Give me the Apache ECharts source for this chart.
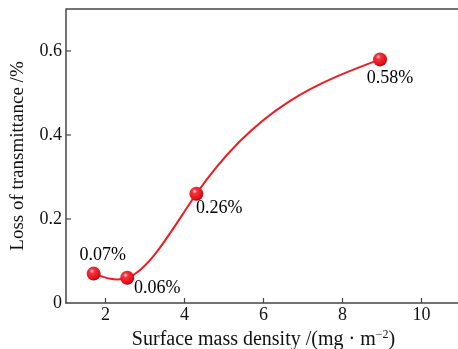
<!DOCTYPE html>
<html>
<head>
<meta charset="utf-8">
<script src="https://cdn.jsdelivr.net/npm/echarts@6/dist/echarts.min.js"></script>
<style>
  html, body { margin: 0; padding: 0; background: #fff; }
  #chart { width: 458px; height: 349px; }
</style>
</head>
<body>
<div id="chart"></div>
<script>
// surface mass density (mg·m^-2) and loss of transmittance (%)
var density = [1.7, 2.55, 4.3, 8.95];
var loss = [0.07, 0.06, 0.26, 0.58];
var pointLabels = ['0.07%', '0.06%', '0.26%', '0.58%'];
var xTicks = [2, 4, 6, 8, 10];
var yTicks = [0, 0.2, 0.4, 0.6];
// label offsets relative to each point
var labelOffsets = [[9, -18], [30, 10], [23, 14], [10, 19]];

var font = 'Liberation Serif';
var ballColor = {
  type: 'radial', x: 0.38, y: 0.32, r: 0.7,
  colorStops: [
    { offset: 0, color: '#ffd0d0' },
    { offset: 0.25, color: '#f5303a' },
    { offset: 0.8, color: '#e0101a' },
    { offset: 1, color: '#a00008' }
  ]
};

// slopes of a natural cubic spline through the points
function splineSlopes(xs, ys) {
  var n = xs.length, h = [], a = [], b = [], c = [], d = [];
  for (var i = 0; i < n - 1; i++) h.push(xs[i + 1] - xs[i]);
  for (i = 0; i < n; i++) {
    a[i] = i > 0 ? h[i - 1] : 0;
    c[i] = i < n - 1 ? h[i] : 0;
    b[i] = (i === 0 || i === n - 1) ? 1 : 2 * (h[i - 1] + h[i]);
    d[i] = (i === 0 || i === n - 1) ? 0 :
      6 * ((ys[i + 1] - ys[i]) / h[i] - (ys[i] - ys[i - 1]) / h[i - 1]);
  }
  c[0] = 0; a[n - 1] = 0;
  for (i = 1; i < n; i++) {
    var w = a[i] / b[i - 1];
    b[i] -= w * c[i - 1];
    d[i] -= w * d[i - 1];
  }
  var M = [];
  M[n - 1] = d[n - 1] / b[n - 1];
  for (i = n - 2; i >= 0; i--) M[i] = (d[i] - c[i] * M[i + 1]) / b[i];
  var s = [];
  for (i = 0; i < n - 1; i++) {
    s[i] = (ys[i + 1] - ys[i]) / h[i] - h[i] * (2 * M[i] + M[i + 1]) / 6;
  }
  i = n - 1;
  s[i] = (ys[i] - ys[i - 1]) / h[i - 1] + h[i - 1] * (M[i - 1] + 2 * M[i]) / 6;
  return s;
}
var slopes = splineSlopes(density, loss);

var pointData = density.map(function (x, i) {
  return {
    value: [x, loss[i]],
    label: { show: true, position: 'inside', offset: labelOffsets[i], formatter: pointLabels[i] }
  };
});

var chart = echarts.init(document.getElementById('chart'));
var option = {
  animation: false,
  grid: { left: 66, top: 9, right: -3, bottom: 46, outerBoundsMode: 'none', containLabel: false },
  xAxis: {
    type: 'value',
    min: 1, max: 11, interval: 1,
    name: 'Surface mass density /(mg · m{sup|−2})',
    nameLocation: 'middle',
    nameGap: 21,
    nameTextStyle: {
      fontFamily: font, fontSize: 20, color: '#111',
      rich: { sup: { fontFamily: font, fontSize: 12, color: '#111', verticalAlign: 'top', padding: [0, 0, 9, 0] } }
    },
    axisLine: { show: true, lineStyle: { color: '#444', width: 1.5 } },
    axisTick: { show: false },
    axisLabel: {
      fontFamily: font, fontSize: 18, color: '#111', margin: 3,
      formatter: function (v) { return xTicks.indexOf(v) >= 0 ? String(v) : ''; }
    },
    splitLine: { show: false }
  },
  yAxis: {
    type: 'value',
    min: 0, max: 0.7, interval: 0.1,
    name: 'Loss of transmittance /%',
    nameLocation: 'middle',
    nameGap: 38,
    nameTextStyle: { fontFamily: font, fontSize: 19, color: '#111' },
    axisLine: { show: true, lineStyle: { color: '#444', width: 1.5 } },
    axisTick: { show: false },
    axisLabel: {
      fontFamily: font, fontSize: 18, color: '#111', margin: 4,
      formatter: function (v) {
        var r = Math.round(v * 10);
        if (r === 0) return '0';
        return (r % 2 === 0 && r < 7) ? (r / 10).toFixed(1) : '';
      }
    },
    splitLine: { show: false }
  },
  series: [
    {
      // smooth curve through the measured points
      type: 'custom',
      data: [[density[0], loss[0]]],
      renderItem: function (params, api) {
        var p0 = api.coord([density[0], loss[0]]);
        var path = 'M' + p0[0] + ' ' + p0[1];
        for (var i = 0; i < density.length - 1; i++) {
          var h = density[i + 1] - density[i];
          var c1 = api.coord([density[i] + h / 3, loss[i] + slopes[i] * h / 3]);
          var c2 = api.coord([density[i + 1] - h / 3, loss[i + 1] - slopes[i + 1] * h / 3]);
          var p1 = api.coord([density[i + 1], loss[i + 1]]);
          path += ' C' + c1[0] + ' ' + c1[1] + ' ' + c2[0] + ' ' + c2[1] + ' ' + p1[0] + ' ' + p1[1];
        }
        return {
          type: 'path',
          shape: { pathData: path },
          style: { fill: null, stroke: '#ee1c24', lineWidth: 2 }
        };
      },
      z: 2
    },
    {
      type: 'scatter',
      data: pointData,
      symbol: 'circle',
      symbolSize: 14,
      itemStyle: { color: ballColor, opacity: 1 },
      label: { fontFamily: font, fontSize: 18, color: '#000', opacity: 1 },
      z: 3
    }
  ],
  graphic: []
};
chart.setOption(option);

// top frame line and inward ticks at the labelled values
function drawFrame() {
  var g = [];
  var yTop = chart.convertToPixel({ yAxisIndex: 0 }, 0.7);
  var yBot = chart.convertToPixel({ yAxisIndex: 0 }, 0);
  var xL = chart.convertToPixel({ xAxisIndex: 0 }, 1);
  g.push({ type: 'line', shape: { x1: xL, y1: yTop, x2: 460, y2: yTop },
    style: { stroke: '#444', lineWidth: 1.5 } });
  yTicks.slice(1).forEach(function (v) {
    var y = chart.convertToPixel({ yAxisIndex: 0 }, v);
    g.push({ type: 'line', shape: { x1: xL, y1: y, x2: xL + 5, y2: y },
      style: { stroke: '#444', lineWidth: 1.2 } });
  });
  xTicks.forEach(function (v) {
    var x = chart.convertToPixel({ xAxisIndex: 0 }, v);
    g.push({ type: 'line', shape: { x1: x, y1: yBot, x2: x, y2: yBot - 5 },
      style: { stroke: '#444', lineWidth: 1.2 } });
  });
  chart.setOption({ graphic: g });
}
drawFrame();
</script>
</body>
</html>
